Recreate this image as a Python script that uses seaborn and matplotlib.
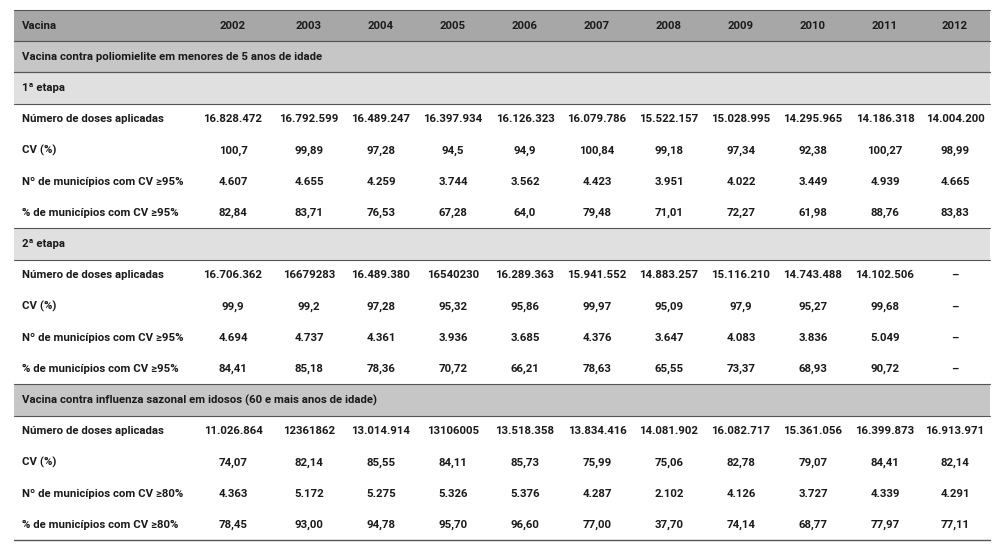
import matplotlib
matplotlib.use("Agg")
import matplotlib.pyplot as plt
import seaborn as sns

sns.set_theme(style="white")
plt.rcParams['font.family'] = ['Roboto', 'DejaVu Sans']

years = ["2002", "2003", "2004", "2005", "2006", "2007", "2008", "2009", "2010", "2011", "2012"]

polio_1_labels = ["Número de doses aplicadas", "CV (%)", "Nº de municípios com CV ≥95%", "% de municípios com CV ≥95%"]
polio_1 = [
    ["16.828.472", "16.792.599", "16.489.247", "16.397.934", "16.126.323", "16.079.786", "15.522.157", "15.028.995", "14.295.965", "14.186.318", "14.004.200"],
    ["100,7", "99,89", "97,28", "94,5", "94,9", "100,84", "99,18", "97,34", "92,38", "100,27", "98,99"],
    ["4.607", "4.655", "4.259", "3.744", "3.562", "4.423", "3.951", "4.022", "3.449", "4.939", "4.665"],
    ["82,84", "83,71", "76,53", "67,28", "64,0", "79,48", "71,01", "72,27", "61,98", "88,76", "83,83"],
]
polio_2 = [
    ["16.706.362", "16679283", "16.489.380", "16540230", "16.289.363", "15.941.552", "14.883.257", "15.116.210", "14.743.488", "14.102.506", "–"],
    ["99,9", "99,2", "97,28", "95,32", "95,86", "99,97", "95,09", "97,9", "95,27", "99,68", "–"],
    ["4.694", "4.737", "4.361", "3.936", "3.685", "4.376", "3.647", "4.083", "3.836", "5.049", "–"],
    ["84,41", "85,18", "78,36", "70,72", "66,21", "78,63", "65,55", "73,37", "68,93", "90,72", "–"],
]
flu_labels = ["Número de doses aplicadas", "CV (%)", "Nº de municípios com CV ≥80%", "% de municípios com CV ≥80%"]
flu = [
    ["11.026.864", "12361862", "13.014.914", "13106005", "13.518.358", "13.834.416", "14.081.902", "16.082.717", "15.361.056", "16.399.873", "16.913.971"],
    ["74,07", "82,14", "85,55", "84,11", "85,73", "75,99", "75,06", "82,78", "79,07", "84,41", "82,14"],
    ["4.363", "5.172", "5.275", "5.326", "5.376", "4.287", "2.102", "4.126", "3.727", "4.339", "4.291"],
    ["78,45", "93,00", "94,78", "95,70", "96,60", "77,00", "37,70", "74,14", "68,77", "77,97", "77,11"],
]

# row list: (kind, label, values)
rows = [("head", "Vacina", years),
        ("sec", "Vacina contra poliomielite em menores de 5 anos de idade", None),
        ("sub", "1ª etapa", None)]
rows += [("data", l, v) for l, v in zip(polio_1_labels, polio_1)]
rows += [("sub", "2ª etapa", None)]
rows += [("data", l, v) for l, v in zip(polio_1_labels, polio_2)]
rows += [("sec", "Vacina contra influenza sazonal em idosos (60 e mais anos de idade)", None)]
rows += [("data", l, v) for l, v in zip(flu_labels, flu)]

fills = {"head": "#a7a7a7", "sec": "#c6c6c6", "sub": "#e0e0e0"}
col_x = [233, 309, 381, 453, 525, 597, 669, 741, 813, 885, 955]
left, right = 14, 990
top, rh = 10, 31.2

fig = plt.figure(figsize=(10.08, 5.49), dpi=100)
ax = fig.add_axes([0, 0, 1, 1])
ax.set_xlim(0, 1008)
ax.set_ylim(549, 0)
ax.axis("off")

y = top
for kind, label, vals in rows:
    if kind in fills:
        ax.fill_between([left, right], y, y + rh, color=fills[kind], lw=0)
        ax.plot([left, right], [y, y], color="#555555", lw=0.8)
        ax.plot([left, right], [y + rh, y + rh], color="#555555", lw=0.8)
    yc = y + rh / 2
    ax.text(22, yc, label, ha="left", va="center", fontsize=8.2, fontweight="bold",
            fontstretch="condensed", color="#1a1a1a")
    if vals:
        for x, v in zip(col_x, vals):
            ax.text(x, yc, v, ha="center", va="center", fontsize=8.2, fontweight="bold",
                    color="#1a1a1a")
    y += rh
ax.plot([left, right], [y, y], color="#555555", lw=1.0)

fig.savefig("out.png", dpi=100)
